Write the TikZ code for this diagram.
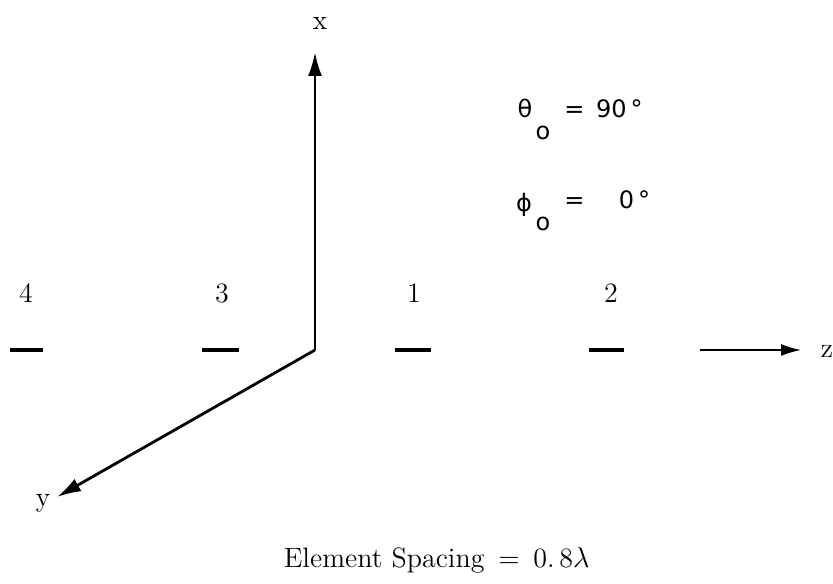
\documentclass[tikz,border=0pt]{standalone}
\usepackage{fontspec}
\newfontfamily\anglefont{DejaVu Sans}
\usetikzlibrary{arrows.meta}

\begin{document}
\begin{tikzpicture}[
x={(0.5pt,0pt)}, y={(0pt,-0.5pt)},
% #region Picture settings %
axis/.style={-{Latex[length=12pt, width=7pt]}, line width=1.4pt},
zaxis/.style={-{Latex[length=10pt, width=6pt]}, line width=0.8pt},
elem/.style={line width=2.2pt},
lbl/.style={font=\fontsize{14}{17}\selectfont, inner sep=0pt},
ang/.style={font=\anglefont\fontsize{12}{14}\selectfont, inner sep=0pt},
% #endregion Picture settings %
]

\useasboundingbox (0,0) rectangle (833,583);

\coordinate (O) at (315,350);
\coordinate (xtip) at (315,52);
\coordinate (ytip) at (57,497);
\coordinate (zstart) at (700,350);
\coordinate (ztip) at (801,350);

\node[lbl] (xlbl) at (320,23) {x};
\node[lbl] (ylbl) at (43,503) {y};
\node[lbl] (zlbl) at (827,351) {z};

\draw[axis] (O) -- (xtip);
\draw[axis] (O) -- (ytip);
\draw[zaxis] (zstart) -- (ztip);

% elements
\draw[elem] (10,350) -- (43,350);
\draw[elem] (202,350) -- (239,350);
\draw[elem] (395,350) -- (431,350);
\draw[elem] (589,350) -- (624,350);

\node[lbl] (n4) at (26,293) {4};
\node[lbl] (n3) at (222,293) {3};
\node[lbl] (n1) at (414,293) {1};
\node[lbl] (n2) at (611,293) {2};

% scan angles
\node[ang] (theta) at (525,108) {θ};
\node[ang] (thetao) at (543,133) {o};
\node[ang, anchor=base west] (thetav) at (564,118) {= \,90\,°};
\node[ang] (phi) at (524,205) {ϕ};
\node[ang] (phio) at (543,224) {o};
\node[ang, anchor=base west] (phiv) at (564,208) {= \;\;\;\;0\,°};

\node[lbl, anchor=base east] (spacing) at (590,567) {\addfontfeature{LetterSpace=12}Element Spacing \,=\, 0.\,8$\lambda$};

\end{tikzpicture}
\end{document}
